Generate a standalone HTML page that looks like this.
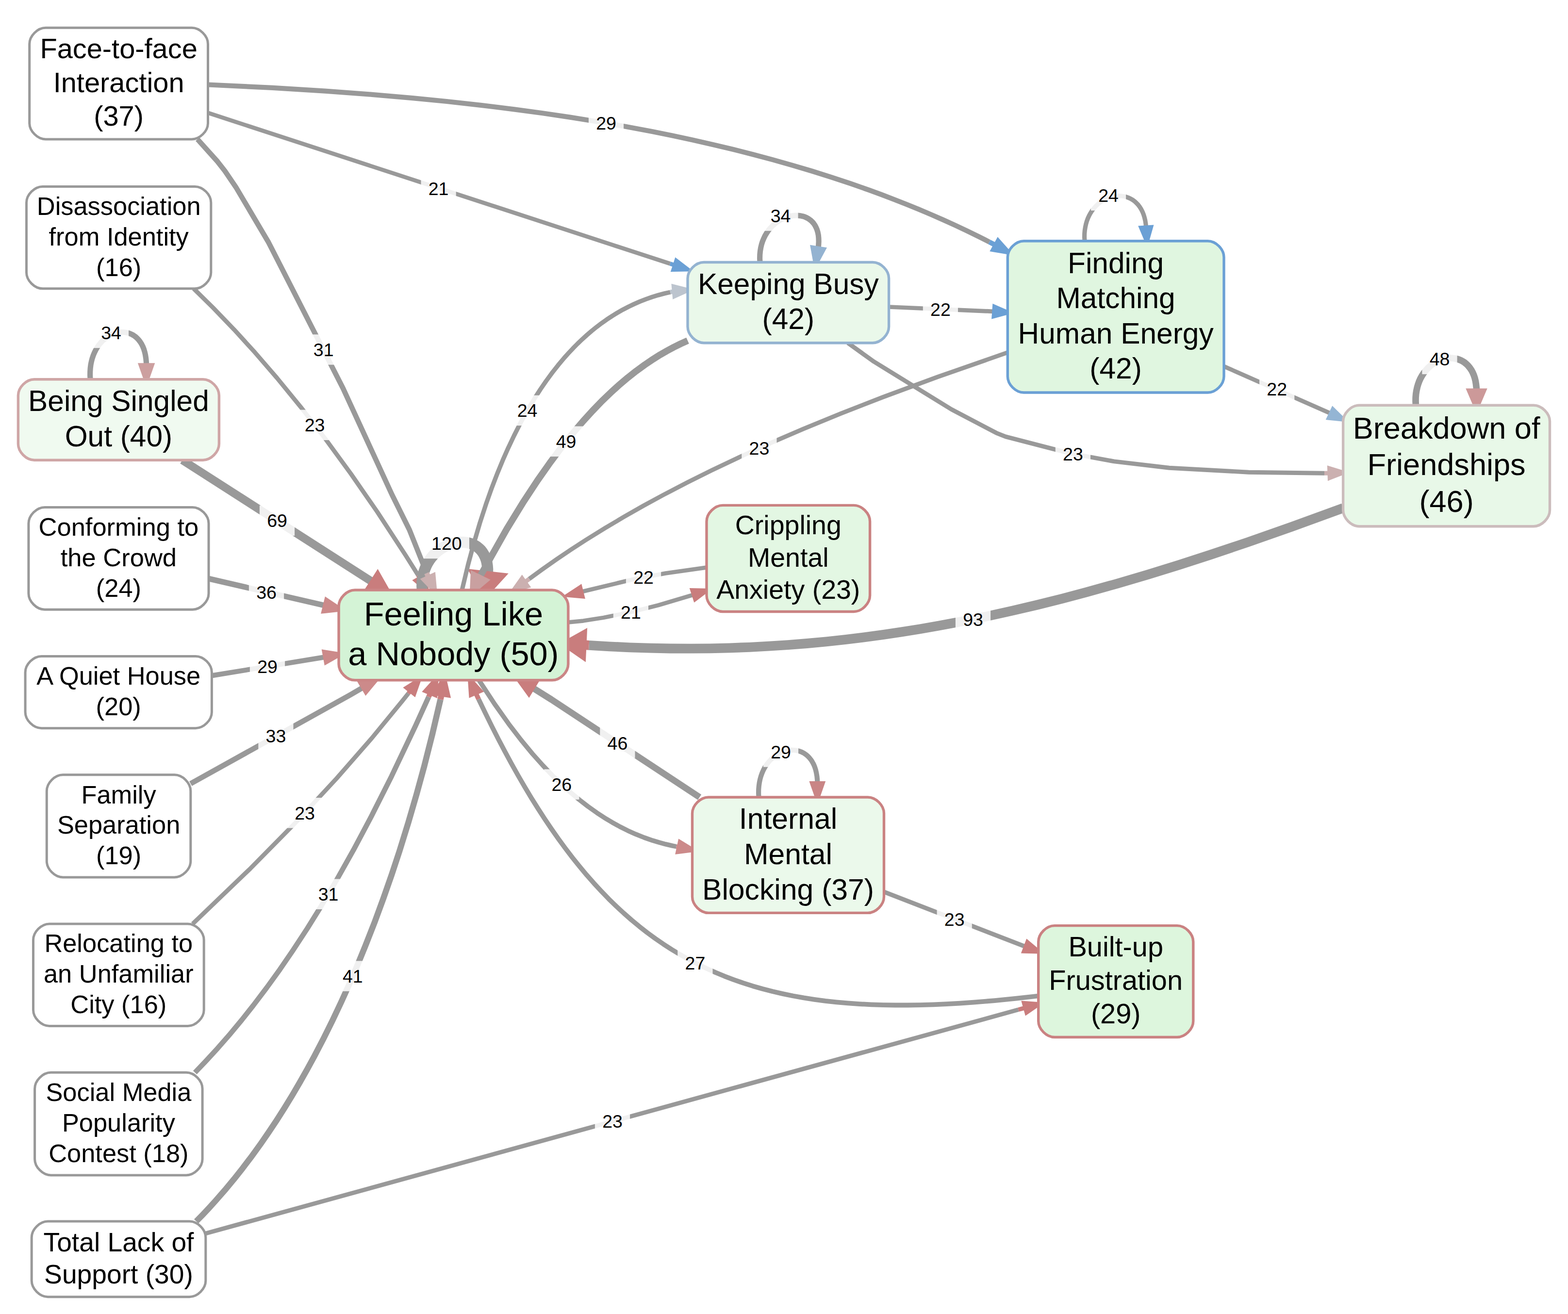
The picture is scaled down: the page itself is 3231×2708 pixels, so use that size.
<!DOCTYPE html>
<html lang="en"><head><meta charset="utf-8"><title>Causal map</title>
<style>html,body{margin:0;padding:0;background:#fff}svg{display:block}text{font-family:'Liberation Sans', Arial, Helvetica, sans-serif;fill:#000;text-anchor:middle}.l{font-size:37.5px}.e{fill:none;stroke:#999999;stroke-linecap:butt;stroke-linejoin:round}.s{fill:none;stroke-linecap:butt}.a{stroke-linejoin:miter;stroke-miterlimit:20}.b{fill:#fff;fill-opacity:0.853}</style></head><body>
<svg xmlns="http://www.w3.org/2000/svg" width="3231" height="2708" viewBox="0 0 3231 2708">
<rect width="3231" height="2708" fill="#fff"/>
<g>
<path class="e" d="M399.0,594.8 L439.0,634.1 L482.5,679.3 L525.1,726.1 L570.8,779.0 L619.3,838.3 L670.2,904.2 L723.0,976.4 L777.3,1054.8 L835.8,1144.4 L861.4,1185.1" stroke-width="8.95"/>
<path class="s" d="M861.4,1185.1 L865.5,1191.8" stroke="#c97d7d" stroke-width="8.95"/>
<polygon class="a" points="857.0,1196.5 879.0,1216.0 874.0,1187.0" fill="#c97d7d" stroke="#c97d7d" stroke-width="8.95"/>
<rect class="b" x="612.4" y="844.6" width="72.2" height="62.4"/>
<text class="l" x="648.5" y="889.2">23</text>
</g>
<g>
<path class="e" d="M870.0,1216.0 L869.6,1207.8 L869.8,1199.9 L870.6,1192.4 L871.9,1185.1 L873.7,1178.2 L876.0,1171.7 L878.6,1165.5 L881.7,1159.6 L885.2,1154.1 L888.9,1149.0 L893.0,1144.2 L897.4,1139.8 L902.0,1135.8 L906.8,1132.2 L911.8,1128.9 L916.9,1126.0 L922.2,1123.6 L927.6,1121.5 L933.0,1119.9 L938.4,1118.6 L943.8,1117.8 L949.2,1117.4 L954.5,1117.5 L959.7,1117.9 L964.8,1118.8 L969.8,1120.2 L974.5,1122.0 L979.0,1124.2 L983.2,1126.9 L987.2,1130.1 L990.8,1133.7 L994.1,1137.9 L997.0,1142.5 L999.5,1147.5 L1001.6,1153.1 L1003.2,1159.2 L1004.2,1165.7 L1004.8,1172.8 L1004.7,1180.4 L1004.4,1185.7" stroke-width="22.96"/>
<path class="s" d="M1004.4,1185.7 L1004.1,1188.4" stroke="#c97d7d" stroke-width="22.96"/>
<polygon class="a" points="984.2,1186.2 1001.0,1216.0 1024.1,1190.7" fill="#c97d7d" stroke="#c97d7d" stroke-width="22.96"/>
<rect class="b" x="873.9" y="1088.8" width="93.1" height="62.4"/>
<text class="l" x="920.4" y="1133.4">120</text>
</g>
<g>
<path class="e" d="M428.5,174.5 L561.2,180.9 L670.0,187.6 L766.6,194.8 L850.3,202.1 L920.5,209.0 L991.0,216.8 L1061.6,225.6 L1118.2,233.3 L1174.7,241.6 L1231.2,250.7 L1287.5,260.5 L1343.6,271.1 L1385.5,279.6 L1427.3,288.5 L1468.8,297.9 L1510.2,307.8 L1551.3,318.2 L1592.1,329.1 L1632.6,340.6 L1672.8,352.5 L1712.7,365.1 L1752.2,378.2 L1791.3,391.9 L1817.2,401.4 L1842.8,411.2 L1868.3,421.2 L1893.5,431.5 L1918.5,442.1 L1943.3,453.0 L1967.9,464.1 L1992.2,475.6 L2016.3,487.4 L2038.7,498.7" stroke-width="10.22"/>
<path class="s" d="M2038.7,498.7 L2052.0,505.6" stroke="#6ba0d5" stroke-width="10.22"/>
<polygon class="a" points="2047.3,514.1 2076.3,519.0 2056.7,497.1" fill="#6ba0d5" stroke="#6ba0d5" stroke-width="10.22"/>
<rect class="b" x="1212.9" y="222.8" width="72.2" height="62.4"/>
<text class="l" x="1249.0" y="267.4">29</text>
</g>
<g>
<path class="e" d="M428.5,232.5 L1380.7,543.4" stroke-width="8.5"/>
<path class="s" d="M1380.7,543.4 L1390.6,546.6" stroke="#6ba0d5" stroke-width="8.5"/>
<polygon class="a" points="1387.6,555.8 1417.0,555.2 1393.6,537.3" fill="#6ba0d5" stroke="#6ba0d5" stroke-width="8.5"/>
<rect class="b" x="867.5" y="357.5" width="72.2" height="62.4"/>
<text class="l" x="903.6" y="402.1">21</text>
</g>
<g>
<path class="e" d="M407.0,287.0 L448.2,332.9 L463.3,352.2 L485.9,385.4 L553.5,499.8 L706.7,800.0 L807.8,1019.6 L844.0,1092.7 L879.2,1181.1" stroke-width="10.61"/>
<path class="s" d="M879.2,1181.1 L883.5,1190.8" stroke="#cbb0b0" stroke-width="10.61"/>
<polygon class="a" points="874.6,1194.8 895.0,1216.0 892.3,1186.7" fill="#cbb0b0" stroke="#cbb0b0" stroke-width="10.61"/>
<rect class="b" x="630.6" y="689.3" width="72.2" height="62.4"/>
<text class="l" x="666.7" y="733.9">31</text>
</g>
<g>
<path class="e" d="M186.0,781.7 L185.6,773.7 L185.7,765.9 L186.2,758.5 L187.1,751.4 L188.5,744.7 L190.2,738.2 L192.3,732.1 L194.7,726.4 L197.4,721.0 L200.4,715.9 L203.6,711.2 L207.1,706.9 L210.8,702.9 L214.7,699.3 L218.7,696.1 L222.9,693.2 L227.2,690.8 L231.6,688.7 L236.0,687.1 L240.5,685.8 L245.0,685.0 L249.5,684.5 L254.0,684.5 L258.4,685.0 L262.7,685.8 L266.9,687.1 L271.0,688.8 L275.0,691.0 L278.7,693.6 L282.3,696.7 L285.6,700.3 L288.7,704.3 L291.6,708.8 L294.1,713.7 L296.3,719.2 L298.1,725.1 L299.6,731.6 L300.7,738.5 L301.4,746.0 L301.6,751.4" stroke-width="11.19"/>
<path class="s" d="M301.6,751.4 L301.6,753.9" stroke="#cc9f9f" stroke-width="11.19"/>
<polygon class="a" points="291.8,753.9 301.6,781.7 311.4,753.9" fill="#cc9f9f" stroke="#cc9f9f" stroke-width="11.19"/>
<rect class="b" x="192.9" y="654.8" width="72.2" height="62.4"/>
<text class="l" x="229.0" y="699.4">34</text>
</g>
<g>
<path class="e" d="M375.8,948.2 L765.9,1198.4" stroke-width="16.75"/>
<path class="s" d="M765.9,1198.4 L770.1,1201.0" stroke="#c97d7d" stroke-width="16.75"/>
<polygon class="a" points="762.2,1213.4 793.5,1216.0 778.0,1188.7" fill="#c97d7d" stroke="#c97d7d" stroke-width="16.75"/>
<rect class="b" x="534.9" y="1041.7" width="72.2" height="62.4"/>
<text class="l" x="571.0" y="1086.3">69</text>
</g>
<g>
<path class="e" d="M430.0,1192.5 L668.4,1247.7" stroke-width="11.56"/>
<path class="s" d="M668.4,1247.7 L671.1,1248.4" stroke="#cc8a8a" stroke-width="11.56"/>
<polygon class="a" points="668.7,1258.2 698.0,1255.0 673.5,1238.6" fill="#cc8a8a" stroke="#cc8a8a" stroke-width="11.56"/>
<rect class="b" x="512.9" y="1189.4" width="72.2" height="62.4"/>
<text class="l" x="549.0" y="1234.0">36</text>
</g>
<g>
<path class="e" d="M436.4,1392.4 L668.1,1354.4" stroke-width="10.22"/>
<path class="s" d="M668.1,1354.4 L670.7,1354.0" stroke="#cc8a8a" stroke-width="10.22"/>
<polygon class="a" points="672.5,1363.5 698.0,1349.0 669.0,1344.4" fill="#cc8a8a" stroke="#cc8a8a" stroke-width="10.22"/>
<rect class="b" x="514.9" y="1342.8" width="72.2" height="62.4"/>
<text class="l" x="551.0" y="1387.4">29</text>
</g>
<g>
<path class="e" d="M392.8,1615.0 L722.3,1431.8 L745.4,1418.3" stroke-width="11"/>
<path class="s" d="M745.4,1418.3 L749.1,1416.1" stroke="#cc8a8a" stroke-width="11"/>
<polygon class="a" points="754.1,1424.4 773.0,1401.8 744.2,1407.7" fill="#cc8a8a" stroke="#cc8a8a" stroke-width="11"/>
<rect class="b" x="532.3" y="1485.8" width="72.2" height="62.4"/>
<text class="l" x="568.4" y="1530.4">33</text>
</g>
<g>
<path class="e" d="M397.0,1903.9 L515.9,1789.9 L612.0,1692.3 L693.8,1604.0 L765.9,1521.5 L828.6,1445.2 L841.5,1429.0" stroke-width="8.95"/>
<path class="s" d="M841.5,1429.0 L845.7,1423.6" stroke="#c97d7d" stroke-width="8.95"/>
<polygon class="a" points="853.3,1429.6 863.0,1401.8 838.1,1417.5" fill="#c97d7d" stroke="#c97d7d" stroke-width="8.95"/>
<rect class="b" x="591.9" y="1644.1" width="72.2" height="62.4"/>
<text class="l" x="628.0" y="1688.7">23</text>
</g>
<g>
<path class="e" d="M404.4,2517.0 L417.8,2503.3 L431.0,2489.2 L444.0,2474.9 L463.2,2452.9 L482.0,2430.3 L500.4,2407.1 L518.3,2383.4 L535.9,2359.2 L553.0,2334.4 L569.8,2309.2 L586.1,2283.6 L602.1,2257.5 L617.6,2231.0 L632.8,2204.1 L647.6,2176.9 L666.8,2140.1 L685.2,2102.9 L703.1,2065.1 L720.3,2027.0 L736.8,1988.5 L752.7,1949.7 L771.8,1901.0 L789.8,1852.0 L807.0,1802.9 L823.2,1753.9 L841.4,1695.1 L858.4,1636.8 L874.2,1579.0 L891.0,1512.6 L907.6,1441.5" stroke-width="12.45"/>
<path class="s" d="M907.6,1441.5 L910.2,1429.3" stroke="#c97d7d" stroke-width="12.45"/>
<polygon class="a" points="921.0,1430.9 914.3,1401.8 899.5,1427.7" fill="#c97d7d" stroke="#c97d7d" stroke-width="12.45"/>
<rect class="b" x="690.7" y="1980.4" width="72.2" height="62.4"/>
<text class="l" x="726.8" y="2025.0">41</text>
</g>
<g>
<path class="e" d="M401.7,2210.3 L422.6,2188.5 L448.3,2160.6 L473.3,2131.9 L497.8,2102.5 L521.7,2072.4 L549.6,2035.5 L576.8,1997.8 L603.2,1959.3 L633.1,1913.6 L662.0,1867.1 L693.9,1813.1 L728.4,1751.7 L765.0,1682.7 L806.9,1599.6 L856.1,1495.9 L883.3,1436.2" stroke-width="10.61"/>
<path class="s" d="M883.3,1436.2 L887.2,1427.5" stroke="#c97d7d" stroke-width="10.61"/>
<polygon class="a" points="896.2,1431.2 898.0,1401.8 878.3,1423.7" fill="#c97d7d" stroke="#c97d7d" stroke-width="10.61"/>
<rect class="b" x="640.4" y="1811.5" width="72.2" height="62.4"/>
<text class="l" x="676.5" y="1856.1">31</text>
</g>
<g>
<path class="e" d="M423.8,2542.0 L2098.4,2080.8" stroke-width="8.95"/>
<path class="s" d="M2098.4,2080.8 L2112.9,2076.9" stroke="#c97d7d" stroke-width="8.95"/>
<polygon class="a" points="2115.5,2086.2 2139.7,2069.5 2110.3,2067.5" fill="#c97d7d" stroke="#c97d7d" stroke-width="8.95"/>
<rect class="b" x="1225.9" y="2279.6" width="72.2" height="62.4"/>
<text class="l" x="1262.0" y="2324.2">23</text>
</g>
<g>
<path class="e" d="M952.0,1216.0 L964.5,1163.8 L976.0,1121.1 L989.0,1077.1 L1001.5,1038.8 L1012.9,1006.6 L1025.3,974.4 L1035.9,948.7 L1047.2,923.2 L1059.1,898.1 L1071.7,873.2 L1081.6,854.9 L1091.9,837.0 L1102.7,819.3 L1113.8,802.0 L1125.4,785.1 L1137.4,768.7 L1149.9,752.8 L1162.8,737.4 L1171.7,727.5 L1180.8,717.8 L1190.1,708.4 L1199.6,699.3 L1209.3,690.5 L1219.2,682.0 L1229.4,673.8 L1239.8,665.9 L1250.4,658.4 L1261.2,651.3 L1272.3,644.5 L1283.6,638.1 L1295.1,632.1 L1306.9,626.5 L1318.9,621.3 L1331.2,616.5 L1343.6,612.1 L1356.4,608.2 L1369.4,604.8 L1381.2,602.1" stroke-width="9.17"/>
<path class="s" d="M1381.2,602.1 L1389.3,600.5" stroke="#bcc4ce" stroke-width="9.17"/>
<polygon class="a" points="1390.2,610.2 1417.0,598.0 1388.5,590.8" fill="#bcc4ce" stroke="#bcc4ce" stroke-width="9.17"/>
<rect class="b" x="1050.5" y="814.7" width="72.2" height="62.4"/>
<text class="l" x="1086.6" y="859.3">24</text>
</g>
<g>
<path class="e" d="M1417.0,702.0 L1402.5,708.5 L1388.1,715.6 L1374.0,723.2 L1360.1,731.2 L1346.4,739.8 L1328.5,751.9 L1310.9,764.7 L1293.6,778.3 L1276.8,792.5 L1260.3,807.4 L1240.1,826.8 L1220.5,847.1 L1201.4,868.1 L1179.2,894.1 L1157.8,920.9 L1133.7,953.1 L1107.4,990.5 L1079.3,1033.2 L1044.3,1090.2 L990.6,1185.1" stroke-width="13.78"/>
<path class="s" d="M990.6,1185.1 L987.3,1191.1" stroke="#c9a0a0" stroke-width="13.78"/>
<polygon class="a" points="976.4,1185.8 975.0,1216.0 998.1,1196.4" fill="#c9a0a0" stroke="#c9a0a0" stroke-width="13.78"/>
<rect class="b" x="1130.5" y="878.5" width="72.2" height="62.4"/>
<text class="l" x="1166.6" y="923.1">49</text>
</g>
<g>
<path class="e" d="M1566.0,540.5 L1565.6,532.5 L1565.8,524.8 L1566.5,517.4 L1567.7,510.3 L1569.3,503.5 L1571.4,497.1 L1573.9,491.1 L1576.7,485.3 L1579.9,480.0 L1583.4,474.9 L1587.2,470.3 L1591.2,466.0 L1595.5,462.1 L1599.9,458.5 L1604.5,455.3 L1609.3,452.5 L1614.1,450.1 L1619.1,448.1 L1624.0,446.5 L1629.0,445.3 L1634.0,444.5 L1638.9,444.1 L1643.7,444.1 L1648.4,444.6 L1653.0,445.4 L1657.5,446.7 L1661.7,448.5 L1665.7,450.7 L1669.5,453.3 L1673.0,456.4 L1676.2,459.9 L1679.0,463.9 L1681.4,468.4 L1683.5,473.3 L1685.1,478.7 L1686.3,484.6 L1686.9,491.0 L1687.1,497.8 L1686.7,505.2 L1686.0,510.5" stroke-width="11.19"/>
<path class="s" d="M1686.0,510.5 L1685.7,513.1" stroke="#94b3d1" stroke-width="11.19"/>
<polygon class="a" points="1676.0,511.5 1681.3,540.5 1695.3,514.6" fill="#94b3d1" stroke="#94b3d1" stroke-width="11.19"/>
<rect class="b" x="1572.4" y="413.4" width="72.2" height="62.4"/>
<text class="l" x="1608.5" y="458.0">34</text>
</g>
<g>
<path class="e" d="M1831.6,632.5 L2046.2,641.8" stroke-width="8.73"/>
<path class="s" d="M2046.2,641.8 L2048.6,642.0" stroke="#6ba0d5" stroke-width="8.73"/>
<polygon class="a" points="2047.9,651.7 2076.3,644.0 2049.3,632.3" fill="#6ba0d5" stroke="#6ba0d5" stroke-width="8.73"/>
<rect class="b" x="1901.8" y="606.3" width="72.2" height="62.4"/>
<text class="l" x="1937.9" y="650.9">22</text>
</g>
<g>
<path class="e" d="M1747.0,706.7 L1800.8,745.3 L1960.7,843.8 L2053.2,892.3 L2072.1,899.8 L2204.4,934.2 L2295.7,950.9 L2409.4,964.2 L2573.1,973.2 L2729.0,975.3" stroke-width="8.95"/>
<path class="s" d="M2729.0,975.3 L2739.8,975.0" stroke="#cbb0b0" stroke-width="8.95"/>
<polygon class="a" points="2740.2,984.7 2767.6,974.0 2739.5,965.3" fill="#cbb0b0" stroke="#cbb0b0" stroke-width="8.95"/>
<rect class="b" x="2174.8" y="904.4" width="72.2" height="62.4"/>
<text class="l" x="2210.9" y="949.0">23</text>
</g>
<g>
<path class="e" d="M2076.3,726.4 L1932.1,776.8 L1819.8,818.3 L1732.9,852.1 L1654.9,884.2 L1585.8,913.9 L1525.9,941.0 L1466.5,969.2 L1416.3,994.3 L1366.6,1020.1 L1325.9,1042.3 L1285.7,1065.2 L1246.2,1088.7 L1207.3,1112.8 L1176.8,1132.6 L1146.8,1152.8 L1117.3,1173.5 L1090.4,1193.2" stroke-width="8.95"/>
<path class="s" d="M1090.4,1193.2 L1081.3,1200.0" stroke="#cbb0b0" stroke-width="8.95"/>
<polygon class="a" points="1075.7,1192.0 1058.7,1216.0 1087.0,1207.9" fill="#cbb0b0" stroke="#cbb0b0" stroke-width="8.95"/>
<rect class="b" x="1528.3" y="892.4" width="72.2" height="62.4"/>
<text class="l" x="1564.4" y="937.0">23</text>
</g>
<g>
<path class="e" d="M2235.0,496.7 L2234.6,489.1 L2234.7,481.7 L2235.3,474.7 L2236.4,467.9 L2237.8,461.5 L2239.6,455.3 L2241.8,449.5 L2244.4,444.0 L2247.2,438.9 L2250.4,434.0 L2253.8,429.5 L2257.5,425.4 L2261.4,421.6 L2265.5,418.1 L2269.7,415.0 L2274.1,412.3 L2278.7,409.9 L2283.3,407.9 L2288.0,406.3 L2292.8,405.0 L2297.6,404.2 L2302.4,403.7 L2307.2,403.7 L2311.9,404.0 L2316.6,404.8 L2321.1,406.0 L2325.6,407.6 L2329.9,409.6 L2334.0,412.0 L2338.0,414.9 L2341.7,418.3 L2345.2,422.0 L2348.4,426.3 L2351.4,431.0 L2354.0,436.1 L2356.3,441.7 L2358.2,447.8 L2359.8,454.4 L2360.9,461.4 L2361.4,466.4" stroke-width="9.17"/>
<path class="s" d="M2361.4,466.4 L2361.6,469.0" stroke="#6ba0d5" stroke-width="9.17"/>
<polygon class="a" points="2351.9,469.6 2363.3,496.7 2371.3,468.4" fill="#6ba0d5" stroke="#6ba0d5" stroke-width="9.17"/>
<rect class="b" x="2247.9" y="371.5" width="72.2" height="62.4"/>
<text class="l" x="2284.0" y="416.1">24</text>
</g>
<g>
<path class="e" d="M2522.0,755.0 L2740.0,851.3" stroke-width="8.73"/>
<path class="s" d="M2740.0,851.3 L2742.5,852.5" stroke="#94b5d4" stroke-width="8.73"/>
<polygon class="a" points="2738.3,861.3 2767.6,864.3 2746.6,843.7" fill="#94b5d4" stroke="#94b5d4" stroke-width="8.73"/>
<rect class="b" x="2595.1" y="770.2" width="72.2" height="62.4"/>
<text class="l" x="2631.2" y="814.8">22</text>
</g>
<g>
<path class="e" d="M2917.4,835.2 L2917.0,827.2 L2917.1,819.4 L2917.7,812.0 L2918.8,804.9 L2920.3,798.2 L2922.2,791.7 L2924.4,785.6 L2927.0,779.9 L2930.0,774.5 L2933.3,769.4 L2936.8,764.7 L2940.6,760.4 L2944.6,756.4 L2948.8,752.8 L2953.1,749.6 L2957.7,746.7 L2962.3,744.3 L2967.0,742.2 L2971.8,740.6 L2976.7,739.3 L2981.5,738.5 L2986.4,738.0 L2991.2,738.0 L2995.9,738.5 L3000.6,739.3 L3005.2,740.6 L3009.6,742.3 L3013.8,744.5 L3017.9,747.1 L3021.7,750.2 L3025.3,753.8 L3028.6,757.8 L3031.7,762.3 L3034.4,767.2 L3036.8,772.7 L3038.8,778.6 L3040.4,785.1 L3041.5,792.0 L3042.3,799.5 L3042.5,804.8" stroke-width="13.62"/>
<path class="s" d="M3042.5,804.8 L3042.5,807.4" stroke="#cc9999" stroke-width="13.62"/>
<polygon class="a" points="3030.6,807.4 3042.5,835.2 3054.4,807.4" fill="#cc9999" stroke="#cc9999" stroke-width="13.62"/>
<rect class="b" x="2930.4" y="708.8" width="72.2" height="62.4"/>
<text class="l" x="2966.5" y="753.4">48</text>
</g>
<g>
<path class="e" d="M2767.6,1047.0 L2662.0,1085.5 L2570.9,1117.5 L2493.5,1143.5 L2429.5,1164.2 L2365.7,1184.0 L2302.2,1202.7 L2238.9,1220.4 L2188.3,1233.8 L2137.7,1246.5 L2087.0,1258.4 L2036.3,1269.6 L1985.5,1280.0 L1934.6,1289.6 L1896.3,1296.3 L1857.8,1302.4 L1819.2,1308.1 L1780.5,1313.4 L1741.6,1318.1 L1702.5,1322.3 L1663.2,1326.0 L1623.7,1329.1 L1583.9,1331.7 L1543.9,1333.8 L1503.7,1335.3 L1463.1,1336.3 L1422.3,1336.7 L1381.1,1336.5 L1339.6,1335.7 L1297.7,1334.3 L1255.5,1332.3 L1213.6,1329.8" stroke-width="19.85"/>
<path class="s" d="M1213.6,1329.8 L1198.6,1328.7" stroke="#c97d7d" stroke-width="19.85"/>
<polygon class="a" points="1199.4,1311.4 1170.8,1327.4 1197.8,1346.1" fill="#c97d7d" stroke="#c97d7d" stroke-width="19.85"/>
<rect class="b" x="1968.9" y="1245.2" width="72.2" height="62.4"/>
<text class="l" x="2005.0" y="1289.8">93</text>
</g>
<g>
<path class="e" d="M1456.0,1169.5 L1371.3,1181.5 L1303.4,1194.3 L1200.6,1219.1" stroke-width="8.73"/>
<path class="s" d="M1200.6,1219.1 L1197.8,1219.8" stroke="#c97d7d" stroke-width="8.73"/>
<polygon class="a" points="1195.5,1210.3 1170.8,1226.5 1200.2,1229.2" fill="#c97d7d" stroke="#c97d7d" stroke-width="8.73"/>
<rect class="b" x="1289.9" y="1158.5" width="72.2" height="62.4"/>
<text class="l" x="1326.0" y="1203.1">22</text>
</g>
<g>
<path class="e" d="M1170.8,1282.5 L1201.9,1279.4 L1243.6,1272.9 L1303.6,1260.6 L1357.0,1247.1 L1426.8,1226.4" stroke-width="8.5"/>
<path class="s" d="M1426.8,1226.4 L1429.6,1225.5" stroke="#c97d7d" stroke-width="8.5"/>
<polygon class="a" points="1432.5,1234.8 1456.0,1217.0 1426.6,1216.3" fill="#c97d7d" stroke="#c97d7d" stroke-width="8.5"/>
<rect class="b" x="1263.8" y="1230.2" width="72.2" height="62.4"/>
<text class="l" x="1299.9" y="1274.8">21</text>
</g>
<g>
<path class="e" d="M1441.5,1643.0 L1136.0,1441.5 L1099.5,1418.6" stroke-width="13.29"/>
<path class="s" d="M1099.5,1418.6 L1095.7,1416.3" stroke="#c97d7d" stroke-width="13.29"/>
<polygon class="a" points="1101.8,1406.4 1072.0,1401.8 1089.7,1426.2" fill="#c97d7d" stroke="#c97d7d" stroke-width="13.29"/>
<rect class="b" x="1236.3" y="1500.0" width="72.2" height="62.4"/>
<text class="l" x="1272.4" y="1544.6">46</text>
</g>
<g>
<path class="e" d="M987.0,1401.8 L1019.0,1450.6 L1048.2,1491.8 L1073.6,1524.9 L1097.3,1553.6 L1119.0,1577.9 L1138.3,1598.1 L1158.3,1617.5 L1175.5,1633.0 L1193.2,1647.8 L1211.4,1661.9 L1230.1,1675.2 L1245.5,1685.3 L1261.2,1694.7 L1277.2,1703.6 L1293.5,1711.8 L1310.3,1719.3 L1327.4,1726.1 L1344.8,1732.2 L1358.1,1736.2 L1371.6,1739.8 L1385.4,1743.0 L1393.6,1744.6" stroke-width="9.6"/>
<path class="s" d="M1393.6,1744.6 L1399.3,1745.7" stroke="#cc8a8a" stroke-width="9.6"/>
<polygon class="a" points="1397.3,1755.2 1426.5,1751.5 1401.4,1736.2" fill="#cc8a8a" stroke="#cc8a8a" stroke-width="9.6"/>
<rect class="b" x="1121.2" y="1585.3" width="72.2" height="62.4"/>
<text class="l" x="1157.3" y="1629.9">26</text>
</g>
<g>
<path class="e" d="M1563.5,1643.0 L1563.1,1635.0 L1563.2,1627.2 L1563.8,1619.8 L1564.8,1612.7 L1566.2,1606.0 L1568.0,1599.5 L1570.2,1593.4 L1572.7,1587.7 L1575.5,1582.3 L1578.7,1577.2 L1582.1,1572.5 L1585.7,1568.2 L1589.6,1564.2 L1593.6,1560.6 L1597.9,1557.4 L1602.2,1554.5 L1606.7,1552.1 L1611.3,1550.0 L1615.9,1548.4 L1620.6,1547.1 L1625.3,1546.3 L1630.0,1545.8 L1634.7,1545.8 L1639.3,1546.3 L1643.8,1547.1 L1648.2,1548.4 L1652.4,1550.1 L1656.6,1552.3 L1660.5,1554.9 L1664.2,1558.0 L1667.7,1561.6 L1670.9,1565.6 L1673.8,1570.1 L1676.5,1575.0 L1678.8,1580.5 L1680.7,1586.4 L1682.2,1592.9 L1683.4,1599.8 L1684.1,1607.3 L1684.3,1612.6" stroke-width="10.22"/>
<path class="s" d="M1684.3,1612.6 L1684.3,1615.2" stroke="#c98585" stroke-width="10.22"/>
<polygon class="a" points="1674.6,1615.2 1684.3,1643.0 1694.0,1615.2" fill="#c98585" stroke="#c98585" stroke-width="10.22"/>
<rect class="b" x="1572.9" y="1518.3" width="72.2" height="62.4"/>
<text class="l" x="1609.0" y="1562.9">29</text>
</g>
<g>
<path class="e" d="M1821.5,1838.0 L2110.5,1950.0" stroke-width="8.95"/>
<path class="s" d="M2110.5,1950.0 L2113.7,1951.2" stroke="#c97d7d" stroke-width="8.95"/>
<polygon class="a" points="2110.3,1960.3 2139.7,1961.0 2117.2,1942.1" fill="#c97d7d" stroke="#c97d7d" stroke-width="8.95"/>
<rect class="b" x="1930.6" y="1863.8" width="72.2" height="62.4"/>
<text class="l" x="1966.7" y="1908.4">23</text>
</g>
<g>
<path class="e" d="M2139.7,2052.5 L2094.0,2057.7 L2049.5,2062.1 L2006.3,2065.6 L1978.1,2067.6 L1950.5,2069.2 L1923.4,2070.3 L1896.8,2071.1 L1870.6,2071.5 L1845.0,2071.5 L1819.8,2071.1 L1795.1,2070.3 L1770.9,2069.1 L1747.0,2067.4 L1723.7,2065.3 L1700.7,2062.8 L1678.2,2059.8 L1656.1,2056.4 L1634.4,2052.5 L1613.1,2048.1 L1592.1,2043.3 L1571.6,2038.0 L1551.3,2032.2 L1531.5,2025.9 L1512.0,2019.1 L1492.8,2011.8 L1474.0,2004.0 L1455.4,1995.6 L1437.2,1986.7 L1419.3,1977.3 L1401.6,1967.4 L1384.2,1956.9 L1367.1,1945.8 L1350.3,1934.2 L1333.7,1922.1 L1317.4,1909.3 L1301.3,1896.0 L1285.4,1882.0 L1269.7,1867.5 L1254.2,1852.4 L1239.0,1836.6 L1223.9,1820.3 L1208.9,1803.3 L1194.2,1785.7 L1179.6,1767.5 L1165.2,1748.6 L1150.9,1729.1 L1136.7,1708.9 L1122.6,1688.0 L1108.7,1666.5 L1094.8,1644.3 L1081.1,1621.4 L1067.4,1597.9 L1053.8,1573.6 L1040.3,1548.6 L1026.8,1523.0 L1013.4,1496.6 L1000.0,1469.4 L986.2,1440.8" stroke-width="9.81"/>
<path class="s" d="M986.2,1440.8 L979.9,1427.4" stroke="#c97d7d" stroke-width="9.81"/>
<polygon class="a" points="988.9,1423.6 969.0,1401.8 971.0,1431.2" fill="#c97d7d" stroke="#c97d7d" stroke-width="9.81"/>
<rect class="b" x="1396.3" y="1953.3" width="72.2" height="62.4"/>
<text class="l" x="1432.4" y="1997.9">27</text>
</g>
<g>
<path d="M94.03,57.3 L395.17,57.3 C411.83,57.3 428.5,73.97 428.5,90.63 L428.5,253.67 C428.5,270.33 411.83,287 395.17,287 L94.03,287 C77.37,287 60.7,270.33 60.7,253.67 L60.7,90.63 C60.7,73.97 77.37,57.3 94.03,57.3 Z" fill="#ffffff" stroke="#999999" stroke-width="5"/>
<text x="244.6" y="120.4" font-size="57.8">Face-to-face</text>
<text x="244.6" y="189.8" font-size="57.8">Interaction</text>
<text x="244.6" y="259.1" font-size="57.8">(37)</text>
</g>
<g>
<path d="M87.83,384.4 L401.47,384.4 C418.13,384.4 434.8,401.07 434.8,417.73 L434.8,561.47 C434.8,578.13 418.13,594.8 401.47,594.8 L87.83,594.8 C71.17,594.8 54.5,578.13 54.5,561.47 L54.5,417.73 C54.5,401.07 71.17,384.4 87.83,384.4 Z" fill="#ffffff" stroke="#999999" stroke-width="5"/>
<text x="244.7" y="442.7" font-size="52.4">Disassociation</text>
<text x="244.7" y="505.6" font-size="52.4">from Identity</text>
<text x="244.7" y="568.5" font-size="52.4">(16)</text>
</g>
<g>
<path d="M70.73,781.7 L418.07,781.7 C434.73,781.7 451.4,798.37 451.4,815.03 L451.4,914.87 C451.4,931.53 434.73,948.2 418.07,948.2 L70.73,948.2 C54.07,948.2 37.4,931.53 37.4,914.87 L37.4,815.03 C37.4,798.37 54.07,781.7 70.73,781.7 Z" fill="#f0faf0" stroke="#cfa6a6" stroke-width="5.4"/>
<text x="244.4" y="847.1" font-size="60.4">Being Singled</text>
<text x="244.4" y="919.6" font-size="60.4">Out (40)</text>
</g>
<g>
<path d="M92.23,1045.4 L396.67,1045.4 C413.33,1045.4 430,1062.07 430,1078.73 L430,1222.97 C430,1239.63 413.33,1256.3 396.67,1256.3 L92.23,1256.3 C75.57,1256.3 58.9,1239.63 58.9,1222.97 L58.9,1078.73 C58.9,1062.07 75.57,1045.4 92.23,1045.4 Z" fill="#ffffff" stroke="#999999" stroke-width="5"/>
<text x="244.4" y="1103.9" font-size="52.5">Conforming to</text>
<text x="244.4" y="1166.9" font-size="52.5">the Crowd</text>
<text x="244.4" y="1229.9" font-size="52.5">(24)</text>
</g>
<g>
<path d="M85.43,1352.4 L403.07,1352.4 C419.73,1352.4 436.4,1369.07 436.4,1385.73 L436.4,1467.42 C436.4,1484.08 419.73,1500.75 403.07,1500.75 L85.43,1500.75 C68.77,1500.75 52.1,1484.08 52.1,1467.42 L52.1,1385.73 C52.1,1369.07 68.77,1352.4 85.43,1352.4 Z" fill="#ffffff" stroke="#999999" stroke-width="5"/>
<text x="244.2" y="1411.1" font-size="52.4">A Quiet House</text>
<text x="244.2" y="1474.0" font-size="52.4">(20)</text>
</g>
<g>
<path d="M129.63,1596.8 L359.47,1596.8 C376.13,1596.8 392.8,1613.47 392.8,1630.13 L392.8,1774.67 C392.8,1791.33 376.13,1808 359.47,1808 L129.63,1808 C112.97,1808 96.3,1791.33 96.3,1774.67 L96.3,1630.13 C96.3,1613.47 112.97,1596.8 129.63,1596.8 Z" fill="#ffffff" stroke="#999999" stroke-width="5"/>
<text x="244.6" y="1655.5" font-size="52.4">Family</text>
<text x="244.6" y="1718.4" font-size="52.4">Separation</text>
<text x="244.6" y="1781.3" font-size="52.4">(19)</text>
</g>
<g>
<path d="M101.83,1903.9 L386.87,1903.9 C403.53,1903.9 420.2,1920.57 420.2,1937.23 L420.2,2081.17 C420.2,2097.83 403.53,2114.5 386.87,2114.5 L101.83,2114.5 C85.17,2114.5 68.5,2097.83 68.5,2081.17 L68.5,1937.23 C68.5,1920.57 85.17,1903.9 101.83,1903.9 Z" fill="#ffffff" stroke="#999999" stroke-width="5"/>
<text x="244.3" y="1962.3" font-size="52.4">Relocating to</text>
<text x="244.3" y="2025.2" font-size="52.4">an Unfamiliar</text>
<text x="244.3" y="2088.1" font-size="52.4">City (16)</text>
</g>
<g>
<path d="M104.93,2210.3 L383.77,2210.3 C400.43,2210.3 417.1,2226.97 417.1,2243.63 L417.1,2388.67 C417.1,2405.33 400.43,2422 383.77,2422 L104.93,2422 C88.27,2422 71.6,2405.33 71.6,2388.67 L71.6,2243.63 C71.6,2226.97 88.27,2210.3 104.93,2210.3 Z" fill="#ffffff" stroke="#999999" stroke-width="5"/>
<text x="244.4" y="2269.3" font-size="52.4">Social Media</text>
<text x="244.4" y="2332.1" font-size="52.4">Popularity</text>
<text x="244.4" y="2395.0" font-size="52.4">Contest (18)</text>
</g>
<g>
<path d="M98.53,2517 L390.47,2517 C407.13,2517 423.8,2533.67 423.8,2550.33 L423.8,2639.37 C423.8,2656.03 407.13,2672.7 390.47,2672.7 L98.53,2672.7 C81.87,2672.7 65.2,2656.03 65.2,2639.37 L65.2,2550.33 C65.2,2533.67 81.87,2517 98.53,2517 Z" fill="#ffffff" stroke="#999999" stroke-width="5"/>
<text x="244.5" y="2578.6" font-size="55.2">Total Lack of</text>
<text x="244.5" y="2644.8" font-size="55.2">Support (30)</text>
</g>
<g>
<path d="M731.38,1216.05 L1137.52,1216.05 C1154.18,1216.05 1170.85,1232.72 1170.85,1249.38 L1170.85,1368.52 C1170.85,1385.18 1154.18,1401.85 1137.52,1401.85 L731.38,1401.85 C714.72,1401.85 698.05,1385.18 698.05,1368.52 L698.05,1249.38 C698.05,1232.72 714.72,1216.05 731.38,1216.05 Z" fill="#d4f3d6" stroke="#cb8585" stroke-width="5.5"/>
<text x="934.4" y="1288.7" font-size="68.5">Feeling Like</text>
<text x="934.4" y="1370.9" font-size="68.5">a Nobody (50)</text>
</g>
<g>
<path d="M1450.33,540.5 L1798.27,540.5 C1814.93,540.5 1831.6,557.17 1831.6,573.83 L1831.6,673.37 C1831.6,690.03 1814.93,706.7 1798.27,706.7 L1450.33,706.7 C1433.67,706.7 1417,690.03 1417,673.37 L1417,573.83 C1417,557.17 1433.67,540.5 1450.33,540.5 Z" fill="#eaf8ea" stroke="#94b3d1" stroke-width="5.4"/>
<text x="1624.3" y="605.8" font-size="60.4">Keeping Busy</text>
<text x="1624.3" y="678.3" font-size="60.4">(42)</text>
</g>
<g>
<path d="M2109.63,496.7 L2488.67,496.7 C2505.33,496.7 2522,513.37 2522,530.03 L2522,775.67 C2522,792.33 2505.33,809 2488.67,809 L2109.63,809 C2092.97,809 2076.3,792.33 2076.3,775.67 L2076.3,530.03 C2076.3,513.37 2092.97,496.7 2109.63,496.7 Z" fill="#e0f6e0" stroke="#6ba0d5" stroke-width="5.4"/>
<text x="2299.1" y="562.5" font-size="60.45">Finding</text>
<text x="2299.1" y="635.0" font-size="60.45">Matching</text>
<text x="2299.1" y="707.6" font-size="60.45">Human Energy</text>
<text x="2299.1" y="780.1" font-size="60.45">(42)</text>
</g>
<g>
<path d="M2800.93,835.2 L3160.17,835.2 C3176.83,835.2 3193.5,851.87 3193.5,868.53 L3193.5,1051.37 C3193.5,1068.03 3176.83,1084.7 3160.17,1084.7 L2800.93,1084.7 C2784.27,1084.7 2767.6,1068.03 2767.6,1051.37 L2767.6,868.53 C2767.6,851.87 2784.27,835.2 2800.93,835.2 Z" fill="#e8f8e8" stroke="#cbbcbc" stroke-width="5.4"/>
<text x="2980.6" y="903.5" font-size="63.1">Breakdown of</text>
<text x="2980.6" y="979.2" font-size="63.1">Friendships</text>
<text x="2980.6" y="1054.9" font-size="63.1">(46)</text>
</g>
<g>
<path d="M1489.33,1041.35 L1759.27,1041.35 C1775.93,1041.35 1792.6,1058.02 1792.6,1074.68 L1792.6,1227.12 C1792.6,1243.78 1775.93,1260.45 1759.27,1260.45 L1489.33,1260.45 C1472.67,1260.45 1456,1243.78 1456,1227.12 L1456,1074.68 C1456,1058.02 1472.67,1041.35 1489.33,1041.35 Z" fill="#e3f7e3" stroke="#ca8282" stroke-width="5.4"/>
<text x="1624.3" y="1101.2" font-size="55.5">Crippling</text>
<text x="1624.3" y="1167.8" font-size="55.5">Mental</text>
<text x="1624.3" y="1234.4" font-size="55.5">Anxiety (23)</text>
</g>
<g>
<path d="M1459.83,1643 L1788.17,1643 C1804.83,1643 1821.5,1659.67 1821.5,1676.33 L1821.5,1848.07 C1821.5,1864.73 1804.83,1881.4 1788.17,1881.4 L1459.83,1881.4 C1443.17,1881.4 1426.5,1864.73 1426.5,1848.07 L1426.5,1676.33 C1426.5,1659.67 1443.17,1643 1459.83,1643 Z" fill="#ebf9eb" stroke="#ca8282" stroke-width="5.4"/>
<text x="1624.0" y="1707.9" font-size="60.7">Internal</text>
<text x="1624.0" y="1780.7" font-size="60.7">Mental</text>
<text x="1624.0" y="1853.6" font-size="60.7">Blocking (37)</text>
</g>
<g>
<path d="M2173.03,1907.6 L2425.47,1907.6 C2442.13,1907.6 2458.8,1924.27 2458.8,1940.93 L2458.8,2104.17 C2458.8,2120.83 2442.13,2137.5 2425.47,2137.5 L2173.03,2137.5 C2156.37,2137.5 2139.7,2120.83 2139.7,2104.17 L2139.7,1940.93 C2139.7,1924.27 2156.37,1907.6 2173.03,1907.6 Z" fill="#ddf6dd" stroke="#ca8282" stroke-width="5.4"/>
<text x="2299.2" y="1970.9" font-size="57.7">Built-up</text>
<text x="2299.2" y="2040.1" font-size="57.7">Frustration</text>
<text x="2299.2" y="2109.4" font-size="57.7">(29)</text>
</g>
</svg></body></html>
